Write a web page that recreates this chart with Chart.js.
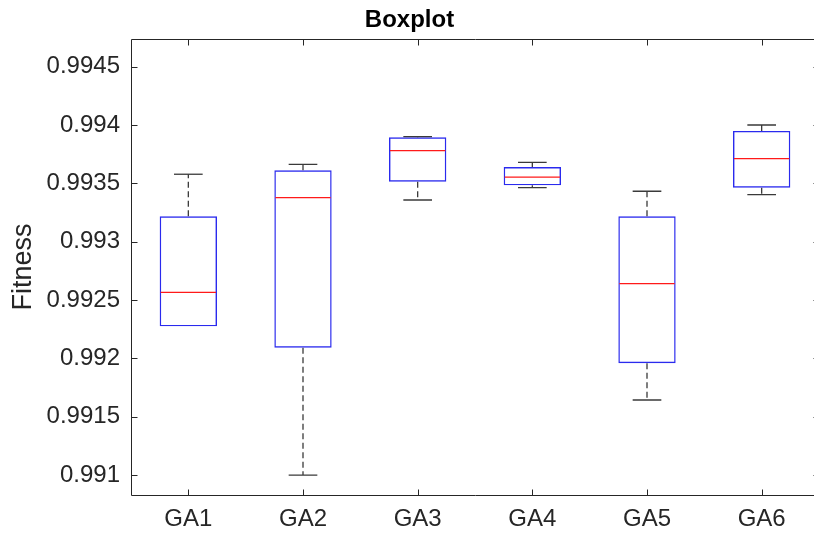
<!DOCTYPE html>
<html>
<head>
<meta charset="utf-8">
<script src="https://cdn.jsdelivr.net/npm/chart.js@4.4.1/dist/chart.umd.min.js"></script>
<style>
  html, body { margin: 0; padding: 0; background: #fff; overflow: hidden; }
  #wrap { width: 814px; height: 536px; overflow: hidden; position: relative; }
  canvas { display: block; }
</style>
</head>
<body>
<div id="wrap"><canvas id="c" width="820" height="536" style="width:820px;height:536px"></canvas></div>
<script>
// ---- data ----
const categories = ['GA1', 'GA2', 'GA3', 'GA4', 'GA5', 'GA6'];
const whiskerLow  = [0.992275, 0.99100, 0.993357, 0.993463, 0.991643, 0.993403];
const q1          = [0.992275, 0.992091, 0.993514, 0.993483, 0.991958, 0.993463];
const median      = [0.992566, 0.993377, 0.993780, 0.993554, 0.992640, 0.993711];
const q3          = [0.993218, 0.993612, 0.993895, 0.993640, 0.993218, 0.993949];
const whiskerHigh = [0.993578, 0.993663, 0.993900, 0.993680, 0.993432, 0.994000];
const yTickValues = [0.991, 0.9915, 0.992, 0.9925, 0.993, 0.9935, 0.994, 0.9945];
const yTickLabels = ['0.991', '0.9915', '0.992', '0.9925', '0.993', '0.9935', '0.994', '0.9945'];
const yMin = 0.990829;
const yMax = 0.994737;

const FONT = "'Liberation Sans', Arial, Helvetica, sans-serif";
const AXIS_COLOR = '#262626';

const boxplotExtras = {
  id: 'boxplotExtras',
  afterDatasetsDraw(chart) {
    const ctx = chart.ctx;
    const xs = chart.scales.x, ys = chart.scales.y;
    const catW = xs.getPixelForValue(1) - xs.getPixelForValue(0);
    const capHalf = catW * 0.125;
    const boxHalf = catW * 0.25;
    ctx.save();
    for (let i = 0; i < categories.length; i++) {
      const x = xs.getPixelForValue(i);
      const yl = ys.getPixelForValue(whiskerLow[i]);
      const y1 = ys.getPixelForValue(q1[i]);
      const ym = ys.getPixelForValue(median[i]);
      const y3 = ys.getPixelForValue(q3[i]);
      const yh = ys.getPixelForValue(whiskerHigh[i]);
      ctx.strokeStyle = '#3a3a3a';
      ctx.lineWidth = 1.3;
      ctx.setLineDash([6, 3.5]);
      ctx.beginPath();
      if (yh < y3 - 0.5) { ctx.moveTo(x, y3); ctx.lineTo(x, yh); }
      if (yl > y1 + 0.5) { ctx.moveTo(x, y1); ctx.lineTo(x, yl); }
      ctx.stroke();
      ctx.setLineDash([]);
      ctx.beginPath();
      if (yh < y3 - 0.3) { ctx.moveTo(x - capHalf, yh); ctx.lineTo(x + capHalf, yh); }
      if (yl > y1 + 0.3) { ctx.moveTo(x - capHalf, yl); ctx.lineTo(x + capHalf, yl); }
      ctx.stroke();
      ctx.strokeStyle = '#ff1a1a';
      ctx.lineWidth = 1.3;
      ctx.beginPath();
      ctx.moveTo(x - boxHalf + 1, ym); ctx.lineTo(x + boxHalf - 1, ym);
      ctx.stroke();
    }
    const a = chart.chartArea;
    const L = Math.round(a.left) + 0.5, T = Math.round(a.top) + 0.5;
    const B = Math.round(a.bottom) + 0.5, R = Math.round(a.right) + 0.5;
    ctx.strokeStyle = AXIS_COLOR;
    ctx.lineWidth = 1;
    ctx.beginPath();
    ctx.moveTo(L, T); ctx.lineTo(R, T);
    ctx.moveTo(L, T); ctx.lineTo(L, B);
    ctx.moveTo(L, B); ctx.lineTo(R, B);
    const tl = 6;
    ys.ticks.forEach(t => {
      const y = Math.round(ys.getPixelForValue(t.value)) + 0.5;
      ctx.moveTo(L, y); ctx.lineTo(L + tl, y);
      ctx.moveTo(R, y); ctx.lineTo(R - tl, y);
    });
    for (let i = 0; i < categories.length; i++) {
      const x = Math.round(xs.getPixelForValue(i)) + 0.5;
      ctx.moveTo(x, B); ctx.lineTo(x, B - tl);
      ctx.moveTo(x, T); ctx.lineTo(x, T + tl);
    }
    ctx.stroke();
    ctx.restore();
  }
};

new Chart(document.getElementById('c'), {
  type: 'bar',
  data: {
    labels: categories,
    datasets: [{
      data: categories.map((_, i) => [q1[i], q3[i]]),
      backgroundColor: 'rgba(0,0,0,0)',
      borderColor: '#2a2aee',
      borderWidth: 1.4,
      borderSkipped: false,
      barPercentage: 0.5,
      categoryPercentage: 1.0
    }]
  },
  options: {
    responsive: false,
    animation: false,
    events: [],
    layout: { padding: { left: 0, right: 1, top: 0, bottom: 0 } },
    plugins: {
      legend: { display: false },
      tooltip: { enabled: false },
      title: {
        display: true,
        text: 'Boxplot',
        color: '#000',
        font: { family: FONT, size: 24, weight: 'bold' },
        padding: { top: 5.6, bottom: 4.6 }
      }
    },
    scales: {
      x: {
        type: 'category',
        offset: true,
        grid: { display: false, drawTicks: false },
        border: { display: false },
        ticks: { color: AXIS_COLOR, font: { family: FONT, size: 24 }, padding: 10, maxRotation: 0 },
        afterFit(s) { s.height = 41; }
      },
      y: {
        type: 'linear',
        min: yMin,
        max: yMax,
        grid: { display: false, drawTicks: false },
        border: { display: false },
        afterBuildTicks(s) { s.ticks = yTickValues.map(v => ({ value: v })); },
        ticks: {
          color: AXIS_COLOR,
          font: { family: FONT, size: 24 },
          padding: 11,
          callback: (v, i) => yTickLabels[i]
        },
        title: {
          display: true,
          text: 'Fitness',
          color: AXIS_COLOR,
          font: { family: FONT, size: 27 },
          padding: { top: 7, bottom: 0 }
        },
        afterFit(s) { s.width = 131; }
      }
    }
  },
  plugins: [boxplotExtras]
});
</script>
</body>
</html>
